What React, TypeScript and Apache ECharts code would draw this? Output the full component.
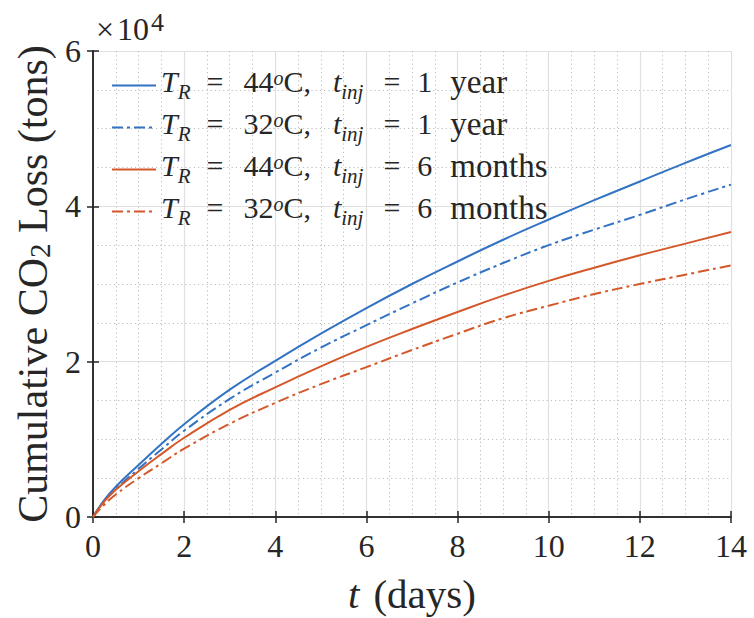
import React, { useEffect, useRef } from "react";
import * as echarts from "echarts";

// Time (days)
const days = [0, 0.25, 0.5, 1, 1.5, 2, 3, 4, 5, 6, 7, 8, 9, 10, 11, 12, 13, 14];
// Cumulative CO2 loss (tons)
const lossT44Year = [0, 2200, 3900, 6700, 9400, 11950, 16400, 20100, 23600, 26900, 30000, 32900, 35700, 38300, 40800, 43200, 45600, 47900];
const lossT32Year = [0, 2100, 3600, 6200, 8700, 11100, 15200, 18600, 21800, 24700, 27500, 30200, 32700, 35000, 37000, 38900, 40900, 42800];
const lossT44Half = [0, 2000, 3500, 5900, 8100, 10200, 13800, 16700, 19400, 21900, 24200, 26400, 28500, 30400, 32100, 33700, 35200, 36700];
const lossT32Half = [0, 1600, 2900, 5000, 6900, 8800, 12000, 14700, 17100, 19300, 21500, 23600, 25600, 27200, 28700, 30000, 31200, 32400];

const xTicks = [0, 2, 4, 6, 8, 10, 12, 14];
const yTicks = [0, 2, 4, 6];

const seriesNames = [
  "T_R = 44oC, t_inj = 1 year",
  "T_R = 32oC, t_inj = 1 year",
  "T_R = 44oC, t_inj = 6 months",
  "T_R = 32oC, t_inj = 6 months",
];
const legendTemps = ["44", "32", "44", "32"];
const legendDurations = ["1", "1", "6", "6"];
const legendUnits = ["year", "year", "months", "months"];

const BLUE = "#3373c4";
const ORANGE = "#d4582a";
const TXT = "#262626";
const FONT = "Liberation Serif";
const DASHDOT = [11, 4, 3, 4];

export default function App() {
  const ref = useRef<HTMLDivElement>(null);
  useEffect(() => {
    if (!ref.current) return;
    const chart = echarts.init(ref.current, null, { renderer: "svg" });
    const mk = (vals: number[]) => days.map((d, i) => [d, vals[i]]);
    const lineSeries = (name: string, vals: number[], color: string, dashed: boolean) => ({
      name,
      type: "line",
      data: mk(vals),
      symbol: "none",
      smooth: 0.45,
      lineStyle: { color, width: 2, type: dashed ? DASHDOT : "solid" },
      itemStyle: { color },
      xAxisIndex: 0,
      yAxisIndex: 0,
      z: 3,
    });
    const LH = 40;
    const base = { fontFamily: FONT, fontSize: 30, lineHeight: LH, color: TXT };
    const richLegend: any = {
      it: { ...base, fontStyle: "italic", padding: [0, 0, 8, 0] },
      rm: { ...base, padding: [0, 0, 8, 0] },
      cc: { ...base, padding: [0, 22, 8, 0] },
      num: { ...base, padding: [0, 18, 8, 0] },
      unit: { ...base, fontSize: 33, padding: [0, 0, 8, 0] },
      eq1: { ...base, padding: [0, 20, 8, 16] },
      eq2: { ...base, padding: [0, 17, 8, 20] },
      sub: { fontFamily: FONT, fontSize: 21, fontStyle: "italic", color: TXT, padding: [12, 0, 0, 0] },
      sup: { fontFamily: FONT, fontSize: 20, fontStyle: "italic", color: TXT, padding: [0, 0, 16, 0] },
    };
    const legendText = (i: number) =>
      `{it|T}{sub|R}{eq1|=}{rm|${legendTemps[i]}}{sup|o}{cc|C,}{it|t}{sub|inj}{eq2|=}{num|${legendDurations[i]}}{unit|${legendUnits[i]}}`;
    const axisLine = { show: true, lineStyle: { color: TXT, width: 1.5 } };
    const axisTick = { show: true, inside: true, length: 6, lineStyle: { color: TXT, width: 1.5 } };
    const option: any = {
      animation: false,
      backgroundColor: "#ffffff",
      textStyle: { fontFamily: FONT },
      grid: { left: 93, right: 23, top: 51, bottom: 101, containLabel: false, outerBoundsMode: "none" },
      legend: {
        orient: "vertical",
        left: 111,
        top: 65,
        padding: 0,
        itemGap: 1,
        itemWidth: 44,
        itemHeight: 14,
        itemStyle: { opacity: 0 },
        data: seriesNames,
        formatter: (n: string) => legendText(seriesNames.indexOf(n)),
        textStyle: { rich: richLegend, color: TXT, fontFamily: FONT, fontSize: 30 },
        selectedMode: false,
      },
      graphic: [
        {
          type: "text",
          left: 96,
          top: 9,
          style: {
            text: "{x|×}{a|10}{b|4}",
            fontFamily: FONT,
            rich: {
              x: { fontFamily: FONT, fontSize: 32, lineHeight: 36, fill: TXT, color: TXT, padding: [0, 3, 0, 0] },
              a: { fontFamily: FONT, fontSize: 32, lineHeight: 36, fill: TXT, color: TXT },
              b: { fontFamily: FONT, fontSize: 26, fill: TXT, color: TXT, padding: [0, 0, 13, 2] },
            },
          },
        },
      ],
      xAxis: [
        {
          type: "value",
          min: xTicks[0],
          max: xTicks[xTicks.length - 1],
          interval: 2,
          position: "bottom",
          name: "{it|t}{rm|(days)}",
          nameLocation: "middle",
          nameGap: 56,
          nameTextStyle: {
            fontFamily: FONT,
            rich: {
              it: { fontFamily: FONT, fontSize: 41, fontStyle: "italic", color: TXT, padding: [0, 14, 0, 0] },
              rm: { fontFamily: FONT, fontSize: 41, color: TXT },
            },
          },
          axisLine,
          axisTick,
          axisLabel: { color: TXT, fontFamily: FONT, fontSize: 32, margin: 13 },
          splitLine: { show: true, lineStyle: { color: "#e0e0e0", width: 1.2 } },
          minorTick: { show: false, splitNumber: 4 },
          minorSplitLine: { show: true, lineStyle: { color: "#bdbdbd", width: 1, type: [1.2, 3] } },
        },
        {
          type: "value",
          min: xTicks[0],
          max: xTicks[xTicks.length - 1],
          interval: 2,
          position: "top",
          axisLine,
          axisTick,
          axisLabel: { show: false },
          splitLine: { show: false },
        },
      ],
      yAxis: [
        {
          type: "value",
          min: yTicks[0] * 10000,
          max: yTicks[yTicks.length - 1] * 10000,
          interval: 20000,
          position: "left",
          name: "{rm|Cumulative CO}{sub|2}{rm| Loss (tons)}",
          nameLocation: "middle",
          nameGap: 38,
          nameRotate: 90,
          nameTextStyle: {
            fontFamily: FONT,
            rich: {
              rm: { fontFamily: FONT, fontSize: 42, lineHeight: 44, color: TXT },
              sub: { fontFamily: FONT, fontSize: 29, color: TXT, padding: [14, 0, 0, 0] },
            },
          },
          axisLine,
          axisTick,
          axisLabel: { color: TXT, fontFamily: FONT, fontSize: 32, margin: 12, formatter: (v: number) => String(v / 10000) },
          splitLine: { show: true, lineStyle: { color: "#e0e0e0", width: 1.2 } },
          minorTick: { show: false, splitNumber: 4 },
          minorSplitLine: { show: true, lineStyle: { color: "#bdbdbd", width: 1, type: [1.2, 3] } },
        },
        {
          type: "value",
          min: yTicks[0] * 10000,
          max: yTicks[yTicks.length - 1] * 10000,
          interval: 20000,
          position: "right",
          axisLine,
          axisTick,
          axisLabel: { show: false },
          splitLine: { show: false },
        },
      ],
      series: [
        lineSeries(seriesNames[0], lossT44Year, BLUE, false),
        lineSeries(seriesNames[1], lossT32Year, BLUE, true),
        lineSeries(seriesNames[2], lossT44Half, ORANGE, false),
        lineSeries(seriesNames[3], lossT32Half, ORANGE, true),
      ],
    };
    chart.setOption(option);
    return () => chart.dispose();
  }, []);
  return <div ref={ref} style={{ position: "fixed", left: 0, top: 0, width: 754, height: 618 }} />;
}
